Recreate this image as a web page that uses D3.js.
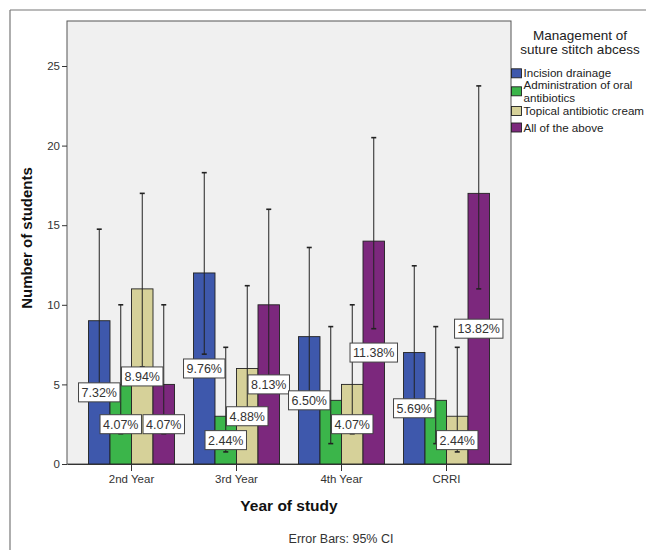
<!DOCTYPE html>
<html><head><meta charset="utf-8">
<script src="https://cdn.jsdelivr.net/npm/d3@7"></script>
<style>body{margin:0;background:#fff}svg{display:block}</style>
</head><body>
<script>
const categories = ["2nd Year", "3rd Year", "4th Year", "CRRI"];
const seriesNames = ["Incision drainage", "Administration of oral antibiotics", "Topical antibiotic cream", "All of the above"];
const legendLines = [["Incision drainage"], ["Administration of oral", "antibiotics"], ["Topical antibiotic cream"], ["All of the above"]];
const colors = ["#3e58ac", "#3bb54a", "#d6d199", "#7c287d"];
// values per series, by category
const incision = [9, 12, 8, 7];
const oral = [5, 3, 4, 4];
const topical = [11, 6, 5, 3];
const allAbove = [5, 10, 14, 17];
// 95% CI upper / lower per series
const incisionHi = [14.75, 18.3, 13.6, 12.45];
const incisionLo = [4.7, 6.9, 4.0, 3.3];
const oralHi = [10.0, 7.33, 8.63, 8.63];
const oralLo = [1.9, 0.76, 1.28, 1.28];
const topicalHi = [17.0, 11.2, 10.0, 7.33];
const topicalLo = [6.1, 2.6, 1.9, 0.76];
const allHi = [10.0, 16.0, 20.5, 23.75];
const allLo = [1.9, 5.4, 8.5, 11.0];
// percentage labels (null = not shown)
const incisionPct = ["7.32%", "9.76%", "6.50%", "5.69%"];
const oralPct = ["4.07%", "2.44%", null, null];
const topicalPct = ["8.94%", "4.88%", "4.07%", "2.44%"];
const allPct = ["4.07%", "8.13%", "11.38%", "13.82%"];
const yTicks = [0, 5, 10, 15, 20, 25];

const values = [incision, oral, topical, allAbove];
const his = [incisionHi, oralHi, topicalHi, allHi];
const los = [incisionLo, oralLo, topicalLo, allLo];
const pcts = [incisionPct, oralPct, topicalPct, allPct];

const W = 646, H = 550;
const svg = d3.select("body").append("svg").attr("width", W).attr("height", H);
const font = "Liberation Sans, Arial, sans-serif";

// outer frame
svg.append("line").attr("x1", 10).attr("y1", 10).attr("x2", W).attr("y2", 10).attr("stroke", "#777").attr("stroke-width", 1.2);
svg.append("line").attr("x1", 10).attr("y1", 10).attr("x2", 10).attr("y2", H).attr("stroke", "#777").attr("stroke-width", 1.2);

const L = 67, R = 511, T = 21, B = 464;
const y = d3.scaleLinear().domain([0, (B - T) / 15.92]).range([B, T]);
const x = d3.scaleBand().domain(categories).range([L, R]).paddingInner(0).paddingOuter((444 / 105 - 4) / 2);
const xs = d3.scaleBand().domain(d3.range(4)).range([-43, 43]);

svg.append("rect").attr("x", L).attr("y", T).attr("width", R - L).attr("height", B - T)
  .attr("fill", "#f0f0f0").attr("stroke", "#555").attr("stroke-width", 1);

// bars
const data = [];
categories.forEach((c, ci) => values.forEach((v, si) => data.push({c, ci, si, v: v[ci], hi: his[si][ci], lo: los[si][ci], pct: pcts[si][ci]})));
const bx = d => x(d.c) + x.bandwidth() / 2 + xs(d.si);
svg.append("g").selectAll("rect").data(data).join("rect")
  .attr("x", bx).attr("width", xs.bandwidth())
  .attr("y", d => y(d.v)).attr("height", d => y(0) - y(d.v))
  .attr("fill", d => colors[d.si]).attr("stroke", "#222").attr("stroke-width", 0.9);

// error bars
const eg = svg.append("g").attr("stroke", "#222").attr("stroke-width", 1);
data.forEach(d => {
  const cx = bx(d) + xs.bandwidth() / 2;
  eg.append("line").attr("x1", cx).attr("x2", cx).attr("y1", y(d.hi)).attr("y2", y(d.lo));
  eg.append("line").attr("x1", cx - 2.5).attr("x2", cx + 2.5).attr("y1", y(d.hi)).attr("y2", y(d.hi)).attr("stroke-width", 1.6);
  eg.append("line").attr("x1", cx - 2.5).attr("x2", cx + 2.5).attr("y1", y(d.lo)).attr("y2", y(d.lo)).attr("stroke-width", 1.6);
});

// percentage labels
const lg = svg.append("g");
data.filter(d => d.pct).forEach(d => {
  const cx = bx(d) + xs.bandwidth() / 2, cy = y(d.v / 2);
  const t = lg.append("text").attr("x", cx).attr("y", cy).attr("text-anchor", "middle").attr("dy", "0.36em")
    .attr("font-family", font).attr("font-size", 12.5).attr("fill", "#333").text(d.pct);
  const w = t.node().getComputedTextLength() + 6;
  lg.insert("rect", () => t.node()).attr("x", cx - w / 2).attr("y", cy - 9.5).attr("width", w).attr("height", 19)
    .attr("fill", "#fff").attr("stroke", "#444").attr("stroke-width", 1);
});

// y axis
const ya = svg.append("g").attr("transform", `translate(${L},0)`)
  .call(d3.axisLeft(y).tickValues(yTicks).tickSize(5).tickPadding(2).tickSizeOuter(0));
ya.select(".domain").remove();
ya.selectAll("line").attr("stroke", "#333");
ya.selectAll("text").attr("font-family", font).attr("font-size", 11.5).attr("fill", "#333");

// x axis
const xa = svg.append("g").attr("transform", `translate(0,${B})`)
  .call(d3.axisBottom(x).tickSize(7).tickPadding(4).tickSizeOuter(0));
xa.select(".domain").attr("stroke", "#333");
xa.selectAll("line").attr("stroke", "#333");
xa.selectAll("text").attr("font-family", font).attr("font-size", 11.5).attr("fill", "#333");

// titles
svg.append("text").attr("transform", "translate(32,238) rotate(-90)").attr("text-anchor", "middle")
  .attr("font-family", font).attr("font-weight", "bold").attr("font-size", 15).attr("fill", "#111").text("Number of students");
svg.append("text").attr("x", 289).attr("y", 511).attr("text-anchor", "middle")
  .attr("font-family", font).attr("font-weight", "bold").attr("font-size", 15.5).attr("fill", "#111").text("Year of study");
svg.append("text").attr("x", 341).attr("y", 543).attr("text-anchor", "middle")
  .attr("font-family", font).attr("font-size", 12.5).attr("fill", "#333").text("Error Bars: 95% CI");

// legend
const leg = svg.append("g");
["Management of", "suture stitch abcess"].forEach((s, i) => leg.append("text").attr("x", 580).attr("y", 39.5 + i * 14)
  .attr("text-anchor", "middle").attr("font-family", font).attr("font-size", 13.5).attr("fill", "#222").text(s));
const itemC = [73.3, 91.3, 111, 127.5];
const lineH = 12.5;
legendLines.forEach((lines, i) => {
  leg.append("rect").attr("x", 511.5).attr("y", itemC[i] - 4.5).attr("width", 10).attr("height", 9)
    .attr("fill", colors[i]).attr("stroke", "#222").attr("stroke-width", 0.9);
  const first = itemC[i] - (lines.length - 1) * lineH / 2;
  lines.forEach((s, j) => leg.append("text").attr("x", 523.5).attr("y", first + j * lineH).attr("dy", "0.36em")
    .attr("font-family", font).attr("font-size", 11.6).attr("fill", "#222").text(s));
});
</script>
</body></html>
